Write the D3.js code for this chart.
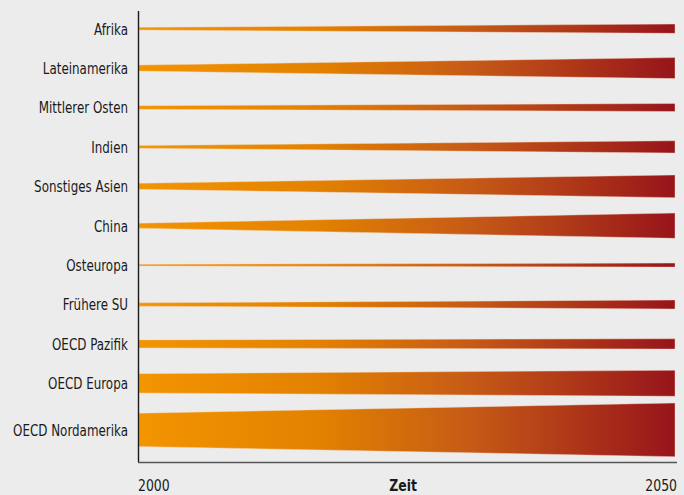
<!DOCTYPE html>
<html><head><meta charset="utf-8">
<script src="https://cdn.jsdelivr.net/npm/d3@7"></script>
<style>
html,body{margin:0;padding:0;background:#ececec;}
svg{display:block;}
.lbl{font-family:"DejaVu Sans","Liberation Sans",sans-serif;font-size:16px;fill:#1a1a1a;}
</style></head>
<body>
<svg id="chart" width="684" height="495"></svg>
<script>
const regions = ["Afrika","Lateinamerika","Mittlerer Osten","Indien","Sonstiges Asien","China","Osteuropa","Frühere SU","OECD Pazifik","OECD Europa","OECD Nordamerika"];
const years = [2000, 2050];
const values2000 = [2.7, 6.0, 3.6, 2.7, 6.0, 5.0, 1.6, 3.3, 8.0, 19.3, 33.3];
const values2050 = [9.3, 21.0, 8.0, 12.3, 22.7, 25.3, 4.0, 9.0, 10.3, 26.0, 53.7];
const tickLabels = ["2000", "2050"];
const axisTitle = "Zeit";

const W = 684, H = 495;
const svg = d3.select("#chart");
svg.append("rect").attr("width", W).attr("height", H).attr("fill", "#ececec");

const x = d3.scaleLinear().domain([2000, 2050]).range([139, 675]);
const maxVal = d3.max(values2050.concat(values2000));
const w = d3.scaleLinear().domain([0, maxVal]).range([0, 53.7]);

// slot layout: each row gets max(minSlot, its widest thickness)
const minSlot = 39.4;
const slots = regions.map((r, i) => Math.max(minSlot, w(Math.max(values2000[i], values2050[i]))));
const top0 = 9;
const centers = [];
let acc = top0;
slots.forEach((s) => { centers.push(acc + s / 2); acc += s; });
const axisY = 462;

const defs = svg.append("defs");
const grad = defs.append("linearGradient").attr("id", "g").attr("gradientUnits", "userSpaceOnUse")
  .attr("x1", x(2000)).attr("x2", x(2050)).attr("y1", 0).attr("y2", 0);
[[0, "#f39400"], [0.33, "#e38200"], [0.62, "#c65a16"], [1, "#97141b"]].forEach(([o, c]) =>
  grad.append("stop").attr("offset", o).attr("stop-color", c));

const area = d3.area().x(d => x(d.year)).y0(d => d.c - w(d.v) / 2).y1(d => d.c + w(d.v) / 2);

const rows = regions.map((r, i) => ({
  name: r, c: centers[i],
  pts: years.map((yr, j) => ({ year: yr, v: j === 0 ? values2000[i] : values2050[i], c: centers[i] }))
}));

svg.selectAll("path.band").data(rows).enter().append("path")
  .attr("class", "band").attr("d", d => area(d.pts))
  .attr("fill", "url(#g)").attr("stroke", "#f3d6c4").attr("stroke-opacity", 0.55).attr("stroke-width", 0.8);

function ctext(px, py, anchor, str, k, bold) {
  const g = svg.append("g").attr("transform", `translate(${px},${py}) scale(${k},1)`);
  const t = g.append("text").attr("class", "lbl").attr("x", 0).attr("y", 0)
    .attr("text-anchor", anchor).text(str);
  if (bold) t.attr("font-weight", "bold");
  return t;
}

rows.forEach(d => ctext(128, d.c + 5.8, "end", d.name, 0.744));

// axes
svg.append("line").attr("x1", 138.5).attr("x2", 138.5).attr("y1", 11).attr("y2", axisY)
  .attr("stroke", "#1a1a1a").attr("stroke-width", 1.4);
svg.append("line").attr("x1", 138).attr("x2", 677).attr("y1", axisY + 0.5).attr("y2", axisY + 0.5)
  .attr("stroke", "#555").attr("stroke-width", 1.4);

ctext(x(years[0]) - 1, 491, "start", tickLabels[0], 0.78);
ctext(x(years[1]) + 2, 491, "end", tickLabels[1], 0.78);
ctext(403, 491, "middle", axisTitle, 0.78, true);
</script>
</body></html>
